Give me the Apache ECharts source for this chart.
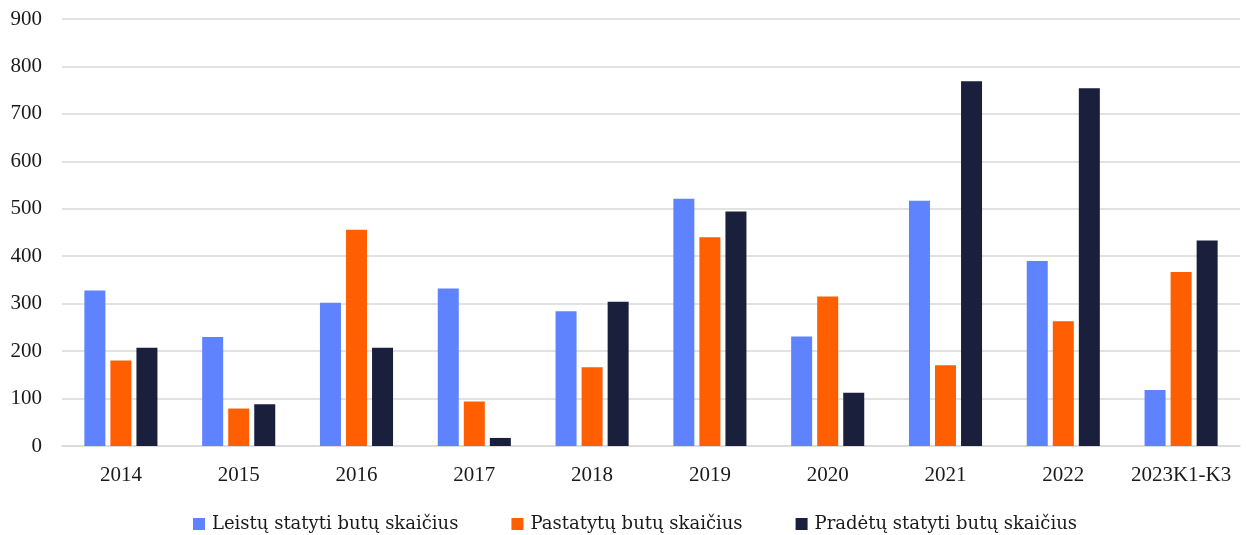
<!DOCTYPE html>
<html>
<head>
<meta charset="utf-8">
<script src="https://cdn.jsdelivr.net/npm/echarts@6/dist/echarts.min.js"></script>
<style>
  html, body { margin: 0; padding: 0; background: #fff; }
  #chart { width: 1246px; height: 535px; }
</style>
</head>
<body>
<div id="chart"></div>
<script>
// Categories (years) and dwelling counts per series
const categories = ['2014', '2015', '2016', '2017', '2018', '2019', '2020', '2021', '2022', '2023K1-K3'];
const leistu = [328, 230, 302, 332, 284, 521, 231, 517, 390, 118];
const pastatytu = [180, 79, 456, 94, 166, 440, 315, 170, 263, 367];
const pradetu = [207, 88, 207, 17, 304, 494, 112, 769, 754, 433];
const seriesNames = ['Leistų statyti butų skaičius', 'Pastatytų butų skaičius', 'Pradėtų statyti butų skaičius'];
const yTicks = { min: 0, max: 900, interval: 100 };

const colors = ['#5f82ff', '#ff5f00', '#1a1f3c'];
const axisFont = '"Liberation Serif", serif';
const legendFont = '"DejaVu Serif", serif';

const chart = echarts.init(document.getElementById('chart'), null, { renderer: 'canvas' });

const makeSeries = (name, data, i) => ({
  name: name,
  type: 'bar',
  data: data,
  barWidth: 21,
  barGap: '24%',
  itemStyle: { color: colors[i] },
  emphasis: { disabled: true }
});

chart.setOption({
  animation: false,
  color: colors,
  textStyle: { fontFamily: axisFont },
  grid: { left: 62, right: 6, top: 19, bottom: 89, containLabel: false },
  legend: {
    top: 515,
    left: 193,
    padding: 0,
    itemWidth: 12,
    itemHeight: 12,
    itemGap: 53,
    icon: 'rect',
    textStyle: { fontFamily: legendFont, fontSize: 18, color: '#1a1a1a', padding: [0, 0, 0, 2] },
    data: seriesNames
  },
  xAxis: {
    type: 'category',
    data: categories,
    axisLine: { show: true, lineStyle: { color: '#d9d9d9', width: 1.5 } },
    axisTick: { show: false },
    axisLabel: { fontFamily: axisFont, fontSize: 21, color: '#1a1a1a', margin: 19, interval: 0 }
  },
  yAxis: {
    type: 'value',
    min: yTicks.min,
    max: yTicks.max,
    interval: yTicks.interval,
    axisLine: { show: false },
    axisTick: { show: false },
    splitLine: { lineStyle: { color: '#d9d9d9', width: 1.5 } },
    axisLabel: { fontFamily: axisFont, fontSize: 21, color: '#1a1a1a', margin: 20 }
  },
  series: [
    makeSeries(seriesNames[0], leistu, 0),
    makeSeries(seriesNames[1], pastatytu, 1),
    makeSeries(seriesNames[2], pradetu, 2)
  ]
});
</script>
</body>
</html>
